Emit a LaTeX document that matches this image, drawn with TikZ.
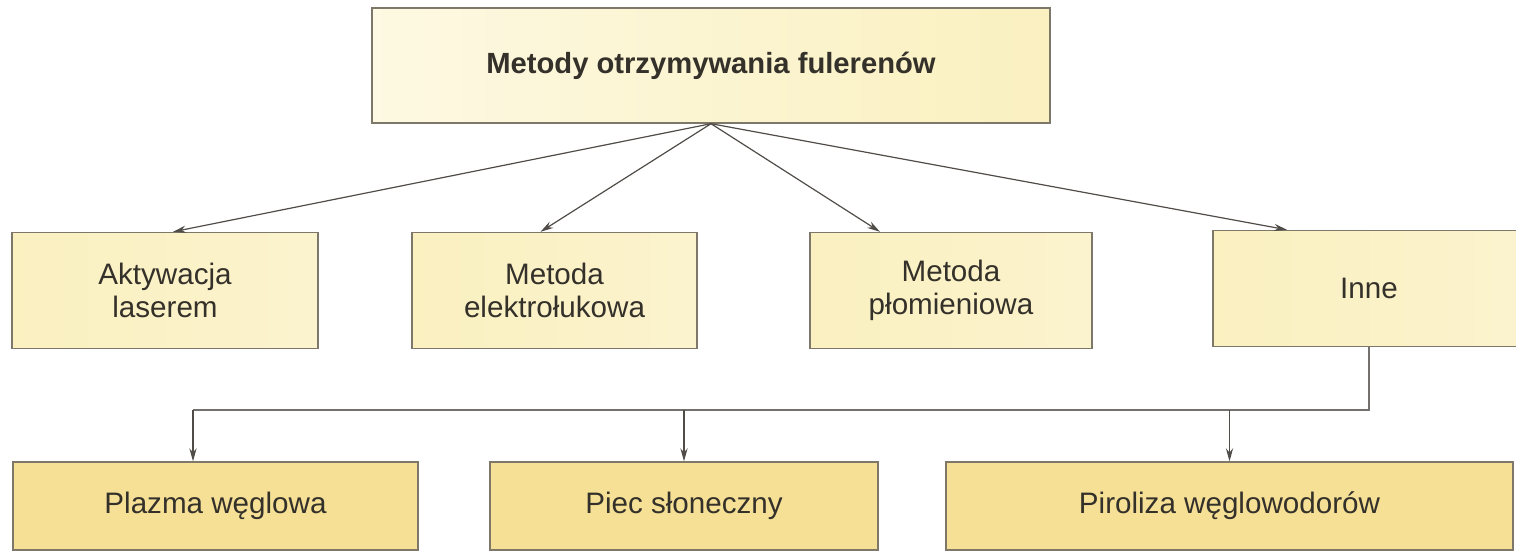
\documentclass[tikz,border=0pt]{standalone}
\usepackage{fontspec}
\setmainfont{Liberation Sans}
\usepackage{tikz}
\usetikzlibrary{arrows.meta, positioning, calc}
\definecolor{boxline}{RGB}{125,120,105}
\definecolor{linegray}{RGB}{80,76,72}
\definecolor{textgray}{RGB}{52,48,42}
\definecolor{paleyellow}{RGB}{253,249,226}
\definecolor{midyellow}{RGB}{250,240,192}
\definecolor{deepyellow}{RGB}{245,224,150}
\definecolor{lightyellow}{RGB}{251,243,206}
\tikzstyle{title} = [rectangle, minimum width=339pt, minimum height=57.5pt, text centered, text=textgray, draw=boxline, line width=0.7pt, left color=paleyellow, right color=midyellow, font=\bfseries\fontsize{14.6}{17}\selectfont]
\tikzstyle{method} = [rectangle, minimum height=58pt, align=center, text=textgray, draw=boxline, line width=0.7pt, left color=midyellow, right color=lightyellow, font=\fontsize{14.8}{16.5}\selectfont]
\tikzstyle{sub} = [rectangle, minimum height=44pt, align=center, text=textgray, draw=boxline, line width=0.7pt, left color=deepyellow, middle color=lightyellow, right color=deepyellow, font=\fontsize{14.8}{16.5}\selectfont]
\tikzstyle{arrow} = [line width=0.6pt, draw=linegray, -{Stealth[length=6.5pt,width=3.6pt]}]
\tikzstyle{bus} = [line width=0.6pt, draw=linegray!80]

\begin{document}
\begin{tikzpicture}[x=0.5pt, y=-0.5pt]
\useasboundingbox (0,0) rectangle (1516,552);
\node (methods) [title] at (711,65.5) {Metody otrzymywania fulerenów};
\node (laser) [method, minimum width=153pt] at (165,290.5) {Aktywacja\\laserem};
\node (arc) [method, minimum width=142.5pt] at (554.5,290.5) {Metoda\\elektrołukowa};
\node (flame) [method, minimum width=141pt] at (951,290.5) {Metoda\\płomieniowa};
\node (other) [method, minimum width=156pt] at (1369,288.5) {Inne};
\node (plasma) [sub, minimum width=202.5pt] at (215.5,506) {Plazma węglowa};
\node (solar) [sub, minimum width=194pt] at (684,506) {Piec słoneczny};
\node (pyro) [sub, minimum width=283.5pt] at (1229.5,506) {Piroliza węglowodorów};
\coordinate (busleft) at (193,410);

\draw [arrow] (methods.south) -- ([xshift=4pt]laser.north);
\draw [arrow] (methods.south) -- ([xshift=-7pt]arc.north);
\draw [arrow] (methods.south) -- ([xshift=-35.5pt]flame.north);
\draw [arrow] (methods.south) -- ([xshift=-41pt]other.north);
\draw [bus] (other.south) |- (busleft);
\draw [arrow] (busleft) -- (plasma.north -| busleft);
\draw [arrow] (solar.north |- busleft) -- (solar.north);
\draw [arrow] (pyro.north |- busleft) -- (pyro.north);
\end{tikzpicture}
\end{document}
